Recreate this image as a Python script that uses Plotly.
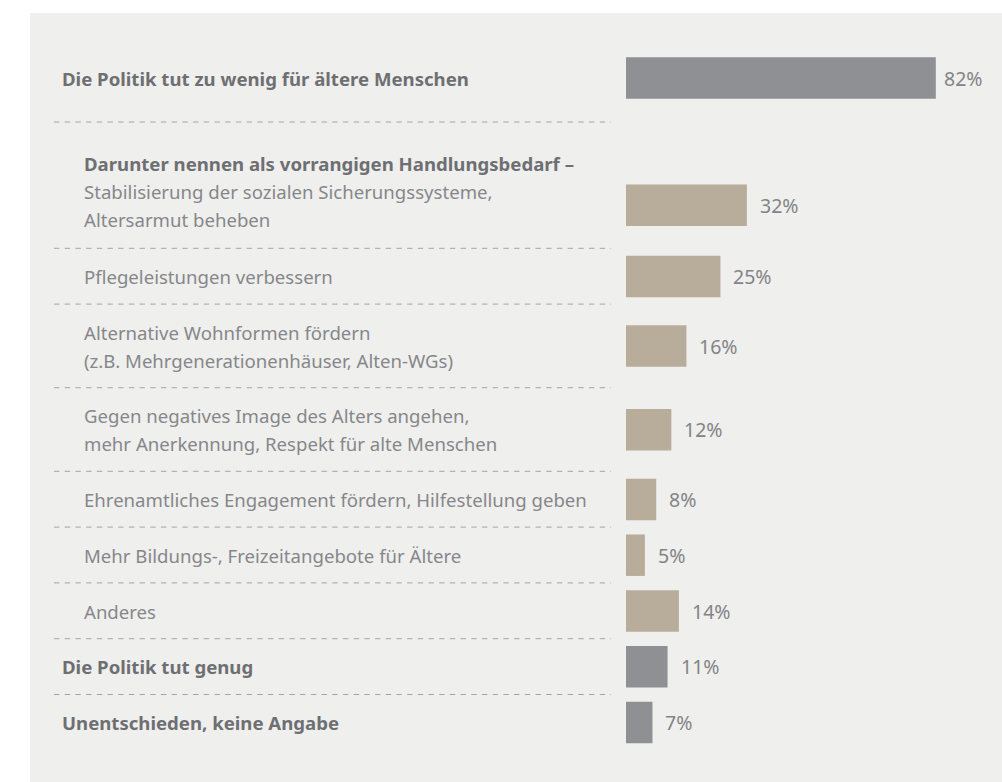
import plotly.graph_objects as go

# ---- data -------------------------------------------------------------
row_labels = [
    ["Die Politik tut zu wenig für ältere Menschen"],
    ["Stabilisierung der sozialen Sicherungssysteme,", "Altersarmut beheben"],
    ["Pflegeleistungen verbessern"],
    ["Alternative Wohnformen fördern", "(z.B. Mehrgenerationenhäuser, Alten-WGs)"],
    ["Gegen negatives Image des Alters angehen,", "mehr Anerkennung, Respekt für alte Menschen"],
    ["Ehrenamtliches Engagement fördern, Hilfestellung geben"],
    ["Mehr Bildungs-, Freizeitangebote für Ältere"],
    ["Anderes"],
    ["Die Politik tut genug"],
    ["Unentschieden, keine Angabe"],
]
values = [82, 32, 25, 16, 12, 8, 5, 14, 11, 7]
is_main = [True, False, False, False, False, False, False, False, True, True]
sub_header = "Darunter nennen als vorrangigen Handlungsbedarf –"
header_row = 1

# ---- layout constants (pixels) ----------------------------------------
W, H = 1002, 782
LINE = 27.8
PAD_TOP, PAD_BOT = 14.2, 13.8
HEADER_EXTRA_TOP, HEADER_EXTRA_BOT = 13.4, 1.5
FIRST_TOP = 49.9
GROUP_GAP = 16.3
BAR_LEFT = 626
PX_PER_PCT = 3.778
BAR_H = 41.5
LABEL_X_MAIN, LABEL_X_SUB = 60, 82
VALUE_SHIFT = [6, 11, 11, 11, 11, 11, 11, 11, 11, 11]

MAIN_COLOR = "#8f9094"
SUB_COLOR = "#b8ad9b"
MAIN_TEXT = "#6e6f72"
SUB_TEXT = "#86878a"
VAL_TEXT = "#838487"
FONT = "Noto Sans"
LABEL_SIZE = 18.6
VALUE_SIZE = 19.5

# compute row geometry from line counts
centers, dividers, text_lines = [], [], []
cursor = FIRST_TOP
for i, lines in enumerate(row_labels):
    y = cursor + PAD_TOP
    if i == header_row:
        y += HEADER_EXTRA_TOP
        text_lines.append((sub_header, y + LINE / 2, True, LABEL_X_SUB))
        y += LINE
    body_top = y
    for ln in lines:
        text_lines.append((ln, y + LINE / 2, is_main[i], LABEL_X_MAIN if is_main[i] else LABEL_X_SUB))
        y += LINE
    centers.append((body_top + y) / 2)
    cursor = y + PAD_BOT
    if i == header_row:
        cursor += HEADER_EXTRA_BOT
    if i == 0:
        cursor += GROUP_GAP
    if i < len(row_labels) - 1:
        dividers.append(cursor)

fig = go.Figure()
fig.add_trace(go.Bar(
    x=values,
    y=centers,
    orientation="h",
    width=BAR_H,
    marker=dict(color=[MAIN_COLOR if m else SUB_COLOR for m in is_main], line=dict(width=0)),
    hoverinfo="skip",
))

annotations = []
for txt, yc, bold, xpx in text_lines:
    annotations.append(dict(
        x=xpx / W, xref="paper", y=yc, yref="y",
        text=f"<b>{txt}</b>" if bold else txt,
        showarrow=False, xanchor="left", yanchor="middle",
        font=dict(family=FONT, size=LABEL_SIZE, color=MAIN_TEXT if bold else SUB_TEXT),
    ))
for v, yc, sh in zip(values, centers, VALUE_SHIFT):
    annotations.append(dict(
        x=v, xref="x", y=yc, yref="y", text=f"{v}%",
        showarrow=False, xanchor="left", yanchor="middle", xshift=sh,
        font=dict(family=FONT, size=VALUE_SIZE, color=VAL_TEXT),
    ))

shapes = [dict(type="rect", xref="paper", yref="y", x0=30 / W, x1=1, y0=13, y1=H,
               fillcolor="#efefee", line=dict(width=0), layer="below")]
for d in dividers:
    shapes.append(dict(type="line", xref="paper", yref="y", x0=54 / W, x1=611 / W, y0=d, y1=d,
                       line=dict(color="#a4a4a4", width=1, dash="5.4px,5.3px")))

fig.update_layout(
    width=W, height=H,
    margin=dict(l=0, r=0, t=0, b=0),
    paper_bgcolor="white", plot_bgcolor="rgba(0,0,0,0)",
    showlegend=False,
    xaxis=dict(domain=[BAR_LEFT / W, 1], range=[0, (W - BAR_LEFT) / PX_PER_PCT], visible=False),
    yaxis=dict(domain=[0, 1], range=[H, 0], visible=False),
    annotations=annotations, shapes=shapes,
)

fig.write_html("out.html")
